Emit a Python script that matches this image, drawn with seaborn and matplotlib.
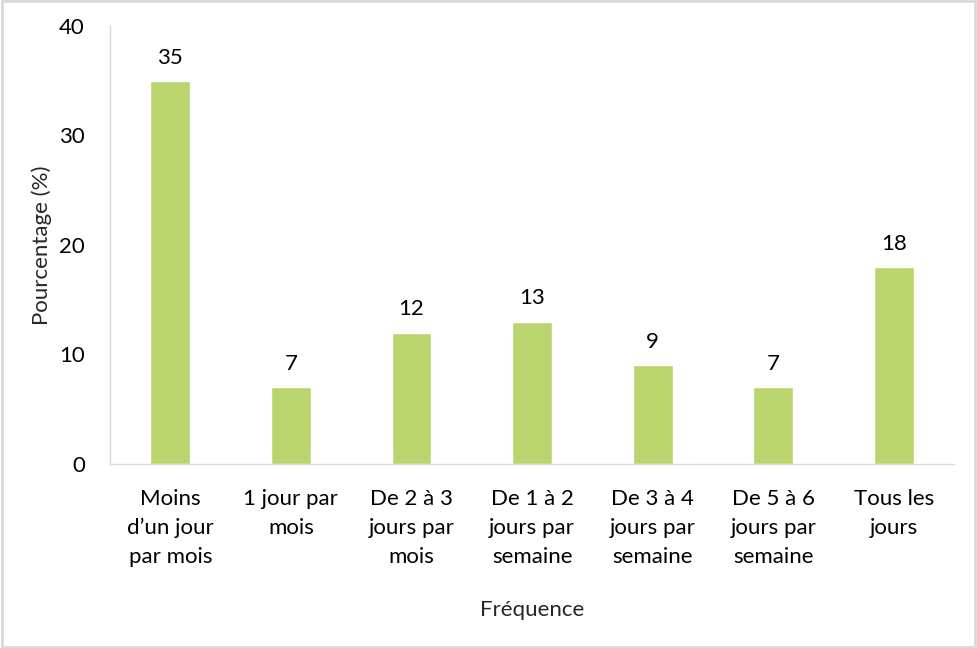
import matplotlib
matplotlib.use("Agg")
import matplotlib.pyplot as plt
import seaborn as sns
import pandas as pd

categories = [
    "Moins\nd\u2019un jour\npar mois",
    "1 jour par\nmois",
    "De 2 \u00e0 3\njours par\nmois",
    "De 1 \u00e0 2\njours par\nsemaine",
    "De 3 \u00e0 4\njours par\nsemaine",
    "De 5 \u00e0 6\njours par\nsemaine",
    "Tous les\njours",
]
values = [35, 7, 12, 13, 9, 7, 18]
y_ticks = [0, 10, 20, 30, 40]

df = pd.DataFrame({"freq": categories, "pct": values})

sns.set_theme(style="white")
plt.rcParams["font.family"] = ["Lato", "DejaVu Sans"]

fig = plt.figure(figsize=(9.77, 6.48), dpi=100)
ax = fig.add_axes([0.1126, 0.284, 0.864, 0.676])

sns.barplot(data=df, x="freq", y="pct", color="#BBD56E", saturation=1,
            width=0.33, ax=ax)

ax.set_ylim(0, 40)
ax.set_yticks(y_ticks)
ax.set_xlim(-0.5, len(categories) - 0.5)
for i, v in enumerate(values):
    ax.text(i, v + 1.2, str(v), ha="center", va="bottom", fontsize=16, color="black")

for s in ["top", "right"]:
    ax.spines[s].set_visible(False)
for s in ["left", "bottom"]:
    ax.spines[s].set_color("#D9D9D9")
    ax.spines[s].set_linewidth(1)
ax.tick_params(axis="y", direction="inout", length=12, width=1, color="#D9D9D9",
               labelsize=16, labelcolor="black", pad=12)
ax.tick_params(axis="x", length=0, labelsize=16, labelcolor="black", pad=18)
for lab in ax.get_xticklabels():
    lab.set_linespacing(1.55)

ax.set_xlabel("Fr\u00e9quence", fontsize=16, labelpad=24, color="#262626")
ax.set_ylabel("Pourcentage (%)", fontsize=16, labelpad=5, color="#262626")

fig.patches.append(plt.Rectangle((0.002, 0.002), 0.996, 0.996, transform=fig.transFigure,
                                 fill=False, edgecolor="#D9D9D9", linewidth=2))

fig.savefig("out.png", dpi=100)
